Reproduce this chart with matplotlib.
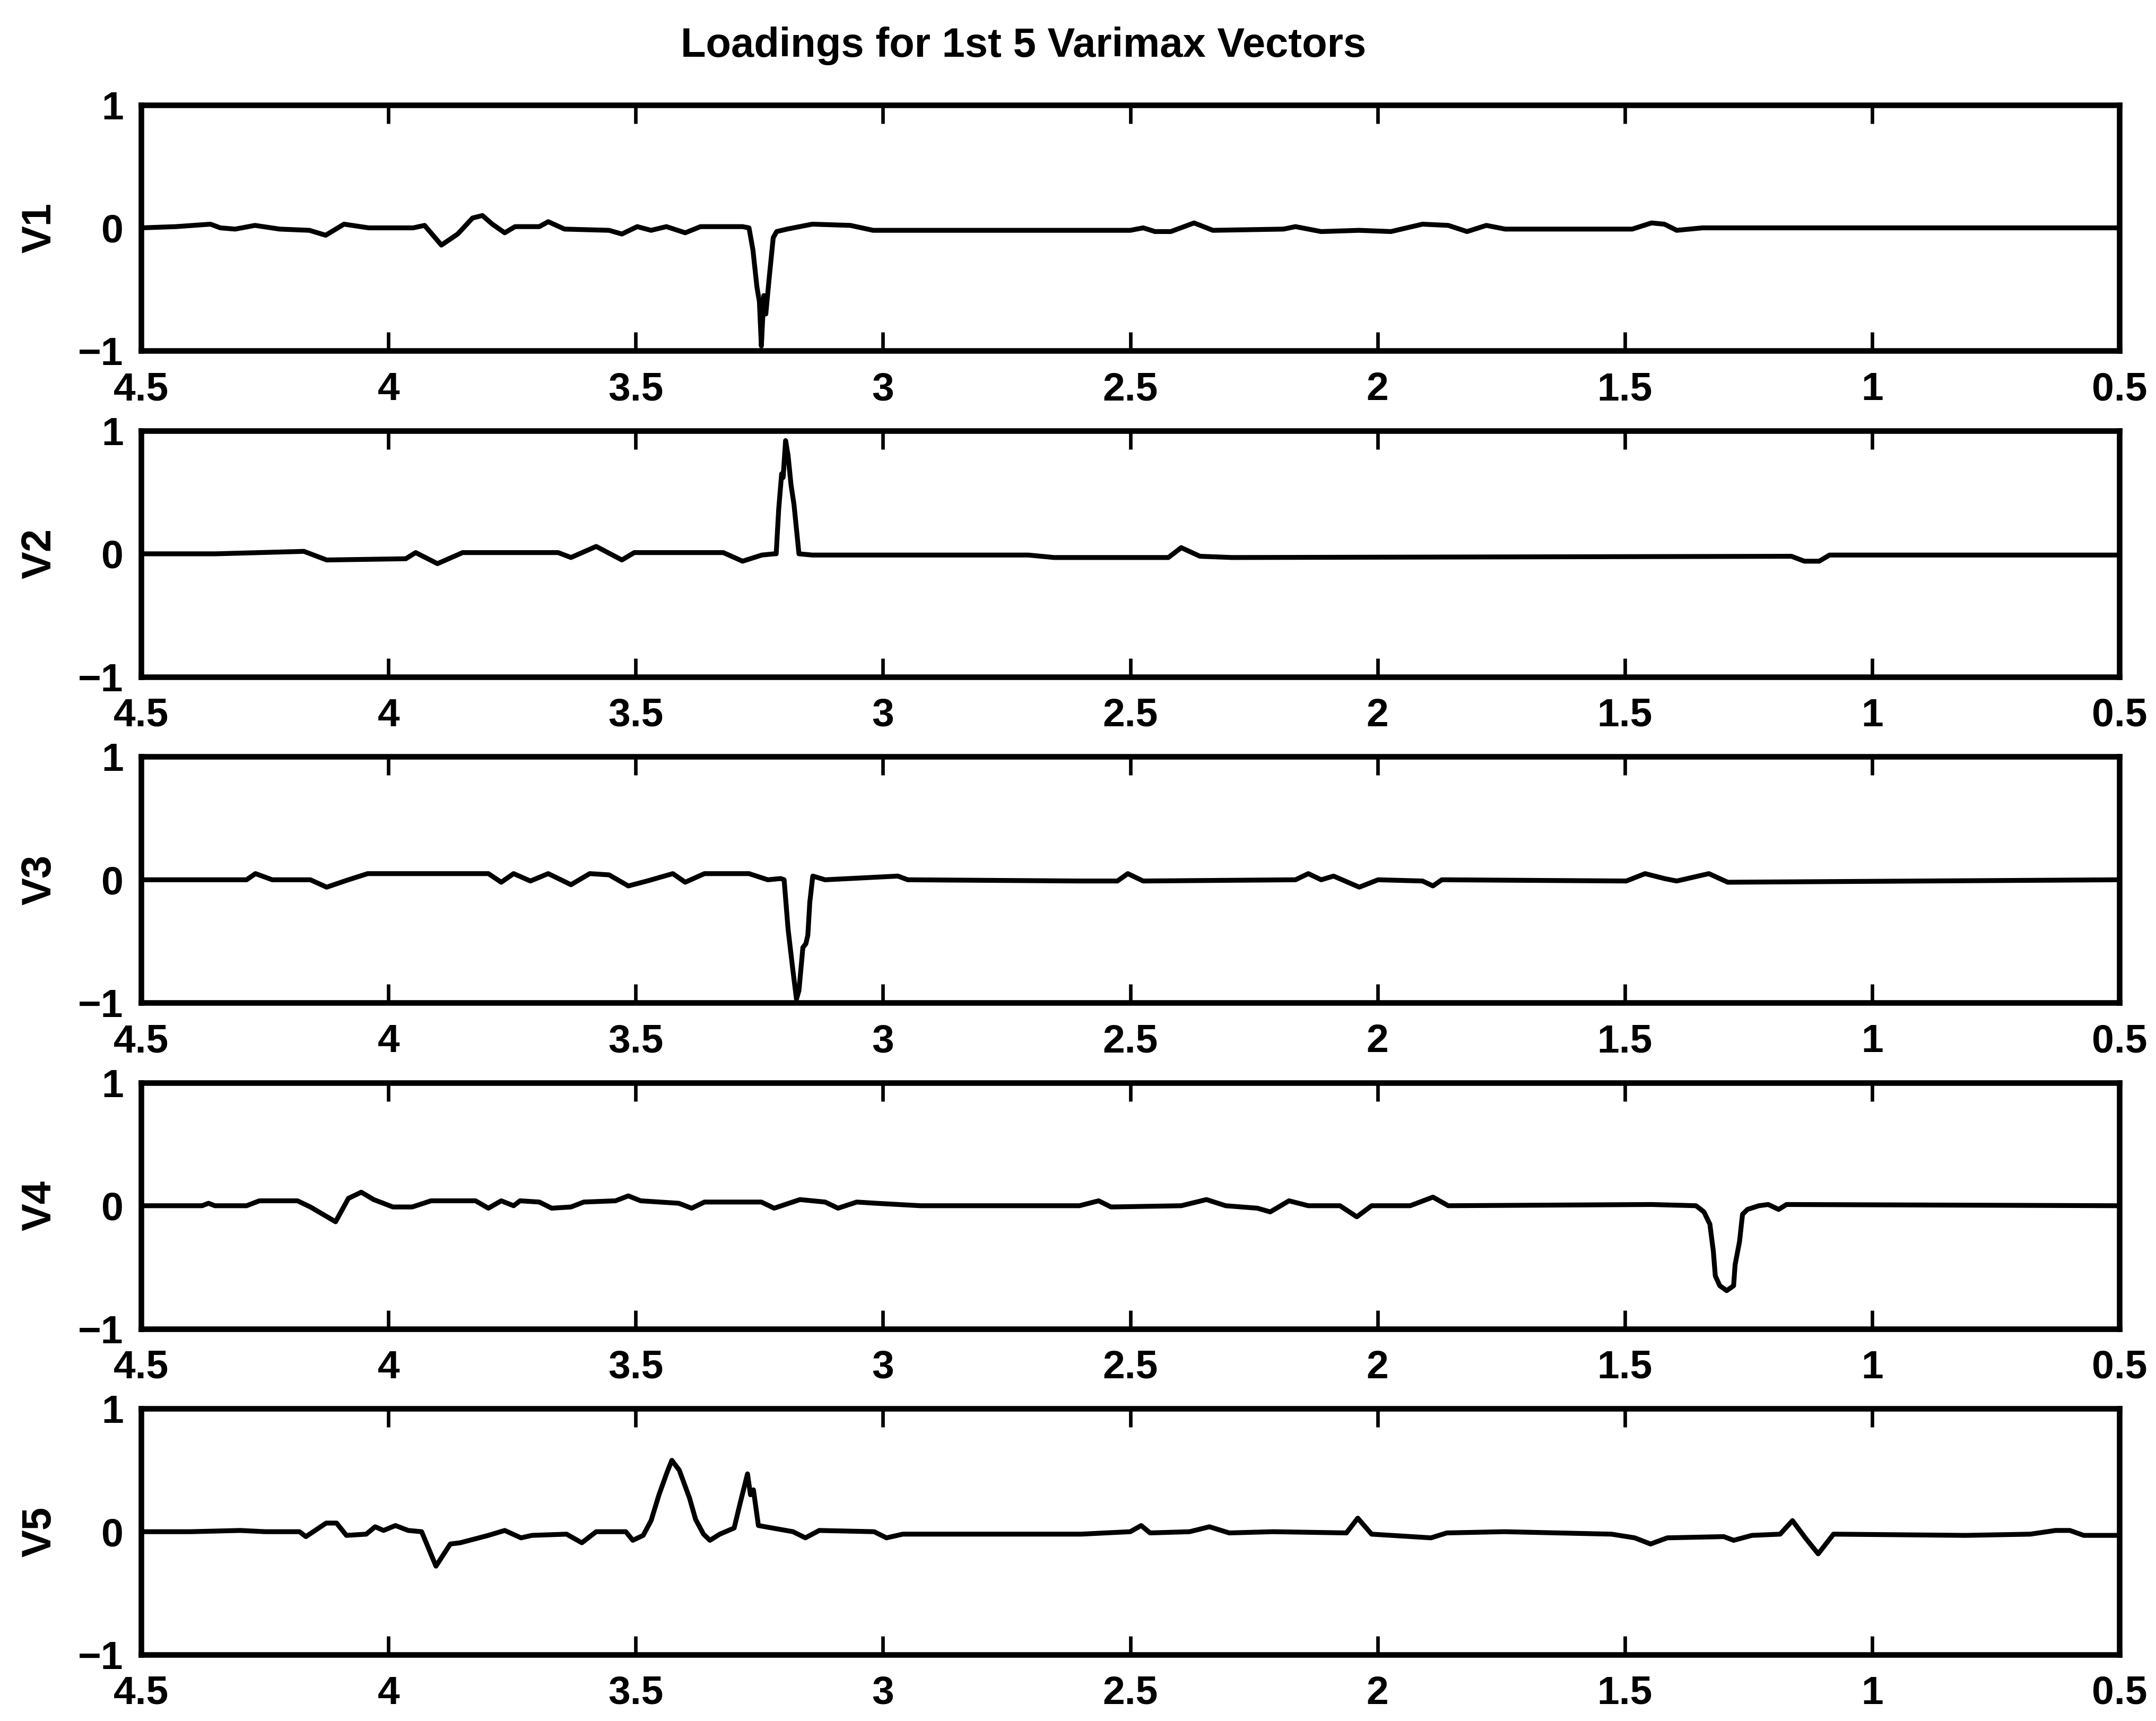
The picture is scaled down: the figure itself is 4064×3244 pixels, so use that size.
import matplotlib.pyplot as plt

plt.rcParams['font.family'] = ['Liberation Sans', 'DejaVu Sans']

# chemical shift (ppm) and loading for each of the first five varimax vectors
v1_ppm = [4.50, 4.43, 4.36, 4.34, 4.31, 4.27, 4.22, 4.16, 4.127, 4.09, 4.04, 3.95, 3.927,
          3.893, 3.86, 3.83, 3.81, 3.79, 3.765, 3.744, 3.695, 3.677, 3.644, 3.554, 3.528,
          3.497, 3.469, 3.438, 3.40, 3.369, 3.284, 3.271, 3.263, 3.255, 3.250, 3.246,
          3.241, 3.237, 3.230, 3.222, 3.215, 3.194, 3.143, 3.066, 3.02, 2.834, 2.50,
          2.474, 2.45, 2.418, 2.371, 2.333, 2.19, 2.166, 2.114, 2.037, 1.973, 1.909,
          1.857, 1.819, 1.78, 1.742, 1.485, 1.446, 1.42, 1.395, 1.343, 0.50]
v1_load = [0.00, 0.01, 0.03, 0.00, -0.01, 0.02, -0.01, -0.02, -0.06, 0.03, 0.00, 0.00, 0.02,
           -0.14, -0.05, 0.08, 0.10, 0.03, -0.04, 0.01, 0.01, 0.05, -0.01, -0.02, -0.05,
           0.01, -0.02, 0.01, -0.04, 0.01, 0.01, 0.00, -0.18, -0.48, -0.60, -0.96,
           -0.55, -0.70, -0.40, -0.08, -0.03, -0.01, 0.03, 0.02, -0.02, -0.02, -0.02,
           0.00, -0.03, -0.03, 0.04, -0.02, -0.01, 0.01, -0.03, -0.02, -0.03, 0.03,
           0.02, -0.03, 0.02, -0.01, -0.01, 0.04, 0.03, -0.02, 0.00, 0.00]

v2_ppm = [4.50, 4.35, 4.171, 4.125, 3.965, 3.945, 3.901, 3.85, 3.657, 3.631, 3.580, 3.528,
          3.503, 3.323, 3.284, 3.245, 3.22, 3.216, 3.211, 3.205, 3.202, 3.197, 3.192,
          3.186, 3.18, 3.175, 3.17, 3.143, 2.706, 2.654, 2.423, 2.397, 2.359, 2.294,
          1.163, 1.137, 1.107, 1.086, 0.50]
v2_load = [0.00, 0.00, 0.02, -0.05, -0.04, 0.01, -0.08, 0.01, 0.01, -0.03, 0.06, -0.05,
           0.01, 0.01, -0.06, -0.01, 0.00, 0.00, 0.36, 0.65, 0.62, 0.92, 0.80,
           0.56, 0.40, 0.20, 0.00, -0.01, -0.01, -0.03, -0.03, 0.05, -0.02, -0.03,
           -0.02, -0.06, -0.06, -0.01, -0.01]

v3_ppm = [4.50, 4.287, 4.269, 4.235, 4.158, 4.125, 4.081, 4.042, 3.798, 3.772, 3.747, 3.713,
          3.677, 3.631, 3.593, 3.554, 3.515, 3.477, 3.425, 3.40, 3.361, 3.271, 3.233,
          3.207, 3.200, 3.192, 3.183, 3.175, 3.170, 3.162, 3.156, 3.152, 3.148, 3.142,
          3.117, 2.970, 2.95, 2.603, 2.526, 2.505, 2.474, 2.166, 2.14, 2.114, 2.089,
          2.037, 1.999, 1.909, 1.888, 1.87, 1.497, 1.459, 1.42, 1.395, 1.33, 1.292, 0.50]
v3_load = [0.00, 0.00, 0.05, 0.00, 0.00, -0.06, 0.00, 0.05, 0.05, -0.02, 0.05, -0.01,
           0.05, -0.04, 0.05, 0.04, -0.05, -0.01, 0.05, -0.02, 0.05, 0.05, 0.00,
           0.01, 0.00, -0.40, -0.71, -0.97, -0.90, -0.55, -0.52, -0.45, -0.18, 0.03,
           0.00, 0.03, 0.00, -0.01, -0.01, 0.05, -0.01, 0.00, 0.05, 0.00, 0.03,
           -0.06, 0.00, -0.01, -0.05, 0.00, -0.01, 0.05, 0.01, -0.01, 0.05, -0.02, 0.00]

v4_ppm = [4.50, 4.377, 4.364, 4.351, 4.287, 4.261, 4.184, 4.158, 4.107, 4.081, 4.055, 4.030,
          3.991, 3.952, 3.914, 3.824, 3.798, 3.772, 3.747, 3.734, 3.695, 3.670, 3.631,
          3.605, 3.541, 3.515, 3.490, 3.413, 3.387, 3.361, 3.246, 3.22, 3.168, 3.117,
          3.091, 3.053, 3.014, 2.924, 2.603, 2.564, 2.539, 2.397, 2.346, 2.307, 2.243,
          2.217, 2.179, 2.14, 2.076, 2.042, 2.012, 1.934, 1.888, 1.857, 1.446, 1.356,
          1.340, 1.328, 1.321, 1.317, 1.308, 1.294, 1.280, 1.277, 1.268, 1.262, 1.252,
          1.229, 1.21, 1.189, 1.173, 0.50]
v4_load = [0.00, 0.00, 0.02, 0.00, 0.00, 0.04, 0.04, -0.01, -0.13, 0.06, 0.11, 0.05,
           -0.01, -0.01, 0.04, 0.04, -0.02, 0.04, 0.00, 0.04, 0.03, -0.02, -0.01,
           0.03, 0.04, 0.08, 0.04, 0.02, -0.02, 0.03, 0.03, -0.02, 0.05, 0.03,
           -0.02, 0.03, 0.02, 0.00, 0.00, 0.04, -0.01, 0.00, 0.05, 0.00, -0.02,
           -0.05, 0.04, 0.00, 0.00, -0.09, 0.00, 0.00, 0.07, 0.00, 0.01, 0.00,
           -0.05, -0.15, -0.37, -0.57, -0.65, -0.69, -0.65, -0.48, -0.29, -0.07, -0.03,
           0.00, 0.01, -0.03, 0.01, 0.00]

v5_ppm = [4.50, 4.40, 4.30, 4.249, 4.18, 4.167, 4.126, 4.105, 4.085, 4.045, 4.027, 4.01,
          3.986, 3.96, 3.933, 3.904, 3.875, 3.855, 3.798, 3.765, 3.732, 3.71, 3.64,
          3.609, 3.58, 3.52, 3.506, 3.485, 3.469, 3.453, 3.436, 3.427, 3.412, 3.391,
          3.379, 3.363, 3.350, 3.330, 3.301, 3.289, 3.274, 3.268, 3.262, 3.252, 3.182,
          3.157, 3.129, 3.018, 2.993, 2.96, 2.80, 2.60, 2.50, 2.478, 2.46, 2.38, 2.34,
          2.30, 2.211, 2.063, 2.040, 2.012, 1.892, 1.86, 1.744, 1.527, 1.48, 1.448,
          1.414, 1.300, 1.28, 1.243, 1.186, 1.161, 1.135, 1.109, 1.078, 0.811, 0.68,
          0.629, 0.60, 0.572, 0.50]
v5_load = [0.00, 0.00, 0.01, 0.00, 0.00, -0.04, 0.07, 0.07, -0.03, -0.02, 0.04, 0.01,
           0.05, 0.01, 0.00, -0.28, -0.10, -0.09, -0.03, 0.01, -0.05, -0.03, -0.02,
           -0.09, 0.00, 0.00, -0.07, -0.03, 0.09, 0.30, 0.49, 0.58, 0.50, 0.27,
           0.10, -0.02, -0.07, -0.02, 0.03, 0.23, 0.47, 0.30, 0.34, 0.05, 0.00,
           -0.05, 0.01, 0.00, -0.05, -0.02, -0.02, -0.02, 0.00, 0.05, -0.01, 0.00, 0.04,
           -0.01, 0.00, -0.01, 0.11, -0.02, -0.05, -0.01, 0.00, -0.02, -0.05, -0.10,
           -0.05, -0.04, -0.07, -0.03, -0.02, 0.09, -0.05, -0.18, -0.02, -0.03, -0.02,
           0.01, 0.01, -0.03, -0.03]

vector_names = ['V1', 'V2', 'V3', 'V4', 'V5']
x_ticks = [4.5, 4.0, 3.5, 3.0, 2.5, 2.0, 1.5, 1.0, 0.5]
x_tick_labels = ['4.5', '4', '3.5', '3', '2.5', '2', '1.5', '1', '0.5']
y_ticks = [-1, 0, 1]
y_tick_labels = ['\u22121', '0', '1']

series = [(v1_ppm, v1_load), (v2_ppm, v2_load), (v3_ppm, v3_load),
          (v4_ppm, v4_load), (v5_ppm, v5_load)]

fig = plt.figure(figsize=(20.32, 16.22), dpi=200)

left, width, height = 0.0655, 0.9175, 0.143
bottoms = [0.7961, 0.6067, 0.4173, 0.2279, 0.0385]

for (ppm, load), name, bottom in zip(series, vector_names, bottoms):
    ax = fig.add_axes([left, bottom, width, height])
    ax.plot(ppm, load, color='black', linewidth=3.3)
    ax.set_xlim(4.5, 0.5)
    ax.set_ylim(-1, 1)
    ax.set_xticks(x_ticks)
    ax.set_xticklabels(x_tick_labels)
    ax.set_yticks(y_ticks)
    ax.set_yticklabels(y_tick_labels)
    # inward ticks on top and bottom only
    ax.tick_params(axis='x', direction='in', length=12.5, width=2.4, top=True,
                   labelsize=27, pad=14, color='black')
    ax.tick_params(axis='y', length=0, labelsize=27, pad=12)
    for lab in ax.get_xticklabels() + ax.get_yticklabels():
        lab.set_fontweight('bold')
    for spine in ax.spines.values():
        spine.set_linewidth(3.8)
        spine.set_color('black')
    fig.text(0.0185, bottom + height / 2, name, rotation=90, ha='center', va='center',
             fontsize=28, fontweight='bold')

fig.text(0.4747, 0.967, 'Loadings for 1st 5 Varimax Vectors', ha='center', va='baseline',
         fontsize=28, fontweight='bold')

fig.savefig('out.png', dpi=200, facecolor='white')
